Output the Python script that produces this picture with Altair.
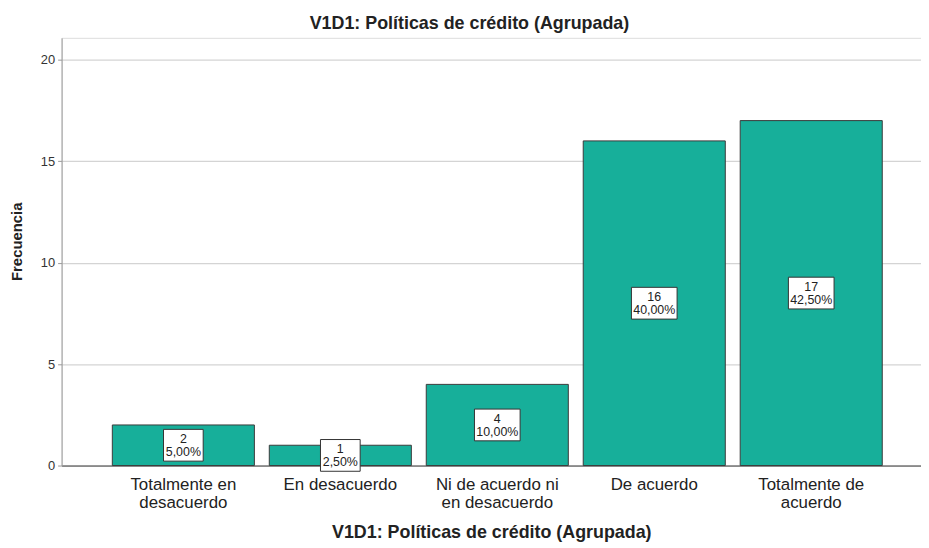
import altair as alt
import pandas as pd

categories = [
    "Totalmente en desacuerdo",
    "En desacuerdo",
    "Ni de acuerdo ni en desacuerdo",
    "De acuerdo",
    "Totalmente de acuerdo",
]
label_lines = [
    ["Totalmente en", "desacuerdo"],
    ["En desacuerdo"],
    ["Ni de acuerdo ni", "en desacuerdo"],
    ["De acuerdo"],
    ["Totalmente de", "acuerdo"],
]
counts = [2, 1, 4, 16, 17]
percents = [5.00, 2.50, 10.00, 40.00, 42.50]
y_ticks = [0, 5, 10, 15, 20]

title_text = "V1D1: Políticas de crédito (Agrupada)"
FONT = "Liberation Sans"

df = pd.DataFrame({
    "cat": categories,
    "count": counts,
    "pct": [f"{p:.2f}".replace(".", ",") + "%" for p in percents],
})

# label expression producing multi-line axis labels
expr = "''"
for c, lines in reversed(list(zip(categories, label_lines))):
    arr = "[" + ",".join("'" + s + "'" for s in lines) + "]"
    expr = f"datum.value == '{c}' ? {arr} : ({expr})"

x_enc = alt.X(
    "cat:N",
    sort=categories,
    scale=alt.Scale(paddingInner=0.095, paddingOuter=0.285, align=0.567),
    axis=alt.Axis(
        title=title_text,
        labelAngle=0,
        labelExpr=expr,
        labelFont=FONT,
        labelFontSize=17,
        labelColor="#222222",
        labelLineHeight=18,
        labelPadding=11,
        labelBaseline="top",
        ticks=False,
        domainColor="#444444",
        domainWidth=1,
        titleFont=FONT,
        titleFontSize=18,
        titleFontWeight="bold",
        titleColor="#222222",
        titleY=68,
        titleBaseline="middle",
    ),
)

y_scale = alt.Scale(domain=[0, 21.08], nice=False)

bars = alt.Chart(df).mark_bar(
    color="#17AF9A", stroke="#3a3a3a", strokeWidth=1
).encode(
    x=x_enc,
    y=alt.Y(
        "count:Q",
        scale=y_scale,
        axis=alt.Axis(
            title="Frecuencia",
            values=y_ticks,
            grid=True,
            gridColor="#d4d4d4",
            gridWidth=1.2,
            domainColor="#999999",
            tickColor="#999999",
            tickSize=4,
            labelFont=FONT,
            labelFontSize=13,
            labelColor="#333333",
            labelPadding=3,
            titleFont=FONT,
            titleFontSize=15,
            titleFontWeight="bold",
            titleColor="#222222",
            titleX=-45,
            titleY=205,
            titleAlign="center",
            titleBaseline="middle",
            titleAngle=-90,
        ),
    ),
)

base = alt.Chart(df).transform_calculate(
    mid="datum.count / 2",
    lab="datum.count + '\\n' + datum.pct",
)

boxes = base.mark_point(
    filled=True, fill="white", stroke="#333333", strokeWidth=1, opacity=1, size=4
).encode(
    x=alt.X("cat:N", sort=categories),
    y=alt.Y("mid:Q", scale=y_scale),
    shape=alt.condition(
        "length(datum.pct) > 5",
        alt.value("M-23,-16H23V16H-23Z"),
        alt.value("M-20,-16H20V16H-20Z"),
    ),
)

texts = base.mark_text(
    font=FONT, fontSize=12.5, color="#222222", lineBreak="\n", lineHeight=13,
    baseline="middle", align="center", dy=-6,
).encode(
    x=alt.X("cat:N", sort=categories),
    y=alt.Y("mid:Q", scale=y_scale),
    text="lab:N",
)

chart = alt.layer(bars, boxes, texts).properties(
    width=866,
    height=431,
    title=alt.TitleParams(
        title_text, font=FONT, fontSize=18, fontWeight="bold",
        color="#222222", anchor="middle", dx=-22, offset=5,
    ),
    autosize=alt.AutoSizeParams(type="none"),
    padding={"left": 54, "top": 28, "right": 0, "bottom": 75},
).configure_view(stroke=None).configure(background="white")

chart.save("out.html", embed_options={"renderer": "svg", "actions": False})
